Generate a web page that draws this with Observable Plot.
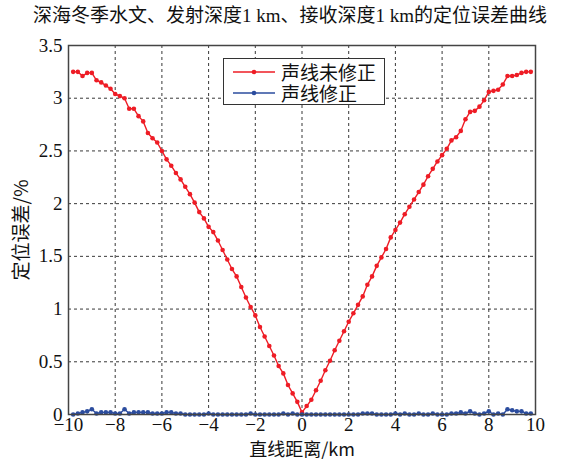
<!DOCTYPE html>
<html>
<head>
<meta charset="utf-8">
<script src="https://cdn.jsdelivr.net/npm/d3@7"></script>
<script src="https://cdn.jsdelivr.net/npm/@observablehq/plot@0.6"></script>
<style>
  body { margin: 0; background: #fff; }
  #wrap { position: relative; width: 577px; height: 461px; overflow: hidden; }
  #title { height: 30px; line-height: 32px; text-align: left; font-size: 19px; color: #111;
           font-family: 'Liberation Serif', 'Noto Sans CJK SC', serif; white-space: nowrap; padding-left: 33px; }
  #legend { position: absolute; left: 223px; top: 58px; width: 160px; height: 45px; background: #fff;
            border: 1.5px solid #333; font-family: 'Noto Sans CJK SC', sans-serif; font-size: 19px; color: #111; }
  #legend .row { display: flex; align-items: center; height: 21px; line-height: 21px; margin-left: 8px; }
  #legend .row:first-child { margin-top: 2px; }
  #legend span { display: inline-block; height: 21px; line-height: 21px; }
  #legend svg { margin-right: 5px; }
</style>
</head>
<body>
<div id="wrap">
  <div id="title">深海冬季水文、发射深度1 km、接收深度1 km的定位误差曲线</div>
  <div id="chart"></div>
  <div id="legend"></div>
</div>
<script>
const distances = [
  -9.8, -9.6, -9.4, -9.2, -9.0, -8.8, -8.6, -8.4, -8.2, -8.0,
  -7.8, -7.6, -7.4, -7.2, -7.0, -6.8, -6.6, -6.4, -6.2, -6.0,
  -5.8, -5.6, -5.4, -5.2, -5.0, -4.8, -4.6, -4.4, -4.2, -4.0,
  -3.8, -3.6, -3.4, -3.2, -3.0, -2.8, -2.6, -2.4, -2.2, -2.0,
  -1.8, -1.6, -1.4, -1.2, -1.0, -0.8, -0.6, -0.4, -0.2, 0,
  0.2, 0.4, 0.6, 0.8, 1.0, 1.2, 1.4, 1.6, 1.8, 2.0,
  2.2, 2.4, 2.6, 2.8, 3.0, 3.2, 3.4, 3.6, 3.8, 4.0,
  4.2, 4.4, 4.6, 4.8, 5.0, 5.2, 5.4, 5.6, 5.8, 6.0,
  6.2, 6.4, 6.6, 6.8, 7.0, 7.2, 7.4, 7.6, 7.8, 8.0,
  8.2, 8.4, 8.6, 8.8, 9.0, 9.2, 9.4, 9.6, 9.8
];
const uncorrected = [
  3.25, 3.25, 3.21, 3.24, 3.24, 3.17, 3.15, 3.12, 3.09, 3.04,
  3.02, 3.00, 2.90, 2.90, 2.83, 2.78, 2.67, 2.62, 2.58, 2.50,
  2.42, 2.36, 2.29, 2.23, 2.16, 2.09, 2.01, 1.92, 1.86, 1.78,
  1.73, 1.65, 1.56, 1.47, 1.38, 1.31, 1.21, 1.11, 1.02, 0.94,
  0.83, 0.74, 0.65, 0.56, 0.46, 0.39, 0.28, 0.20, 0.12, 0.02,
  0.08, 0.14, 0.23, 0.32, 0.42, 0.51, 0.61, 0.70, 0.79, 0.88,
  0.96, 1.04, 1.12, 1.23, 1.31, 1.41, 1.49, 1.57, 1.68, 1.75,
  1.82, 1.90, 1.97, 2.04, 2.11, 2.18, 2.26, 2.33, 2.40, 2.46,
  2.52, 2.60, 2.63, 2.69, 2.80, 2.87, 2.88, 2.92, 2.98, 3.06,
  3.07, 3.08, 3.13, 3.21, 3.21, 3.22, 3.24, 3.25, 3.25
];
const corrected = [
  0.00, 0.01, 0.02, 0.03, 0.05, 0.01, 0.02, 0.02, 0.02, 0.01,
  0.01, 0.05, 0.01, 0.02, 0.02, 0.02, 0.02, 0.01, 0.01, 0.01,
  0.02, 0.02, 0.01, 0.01, 0.00, 0.00, 0.00, 0.00, 0.00, 0.01,
  0.00, 0.00, 0.00, 0.00, 0.00, 0.00, 0.00, 0.00, 0.01, 0.00,
  0.00, 0.00, 0.00, 0.00, 0.00, 0.01, 0.00, 0.01, 0.00, 0.00,
  0.00, 0.00, 0.00, 0.00, 0.00, 0.00, 0.00, 0.00, 0.00, 0.00,
  0.00, 0.00, 0.01, 0.01, 0.01, 0.00, 0.00, 0.00, 0.00, 0.01,
  0.00, 0.01, 0.00, 0.00, 0.01, 0.00, 0.00, 0.01, 0.00, 0.00,
  0.00, 0.01, 0.01, 0.02, 0.01, 0.03, 0.01, 0.00, 0.01, 0.03,
  0.00, 0.01, 0.00, 0.05, 0.04, 0.03, 0.03, 0.01, 0.01
];
const seriesNames = ["声线未修正", "声线修正"];
const seriesColors = ["#ee1c25", "#2b4c9e"];
const xTicks = [-10, -8, -6, -4, -2, 0, 2, 4, 6, 8, 10];
const yTicks = [0, 0.5, 1, 1.5, 2, 2.5, 3, 3.5];
const xLabel = "直线距离/km";
const yLabel = "定位误差/%";

const rows = [];
distances.forEach((d, i) => {
  rows.push({x: d, y: uncorrected[i], s: seriesNames[0]});
});
distances.forEach((d, i) => {
  rows.push({x: d, y: corrected[i], s: seriesNames[1]});
});

const fmt = d => d < 0 ? "\u2212" + Math.abs(d) : String(d);

const chart = Plot.plot({
  width: 577,
  height: 431,
  marginLeft: 68,
  marginRight: 42,
  marginTop: 15,
  marginBottom: 47,
  style: {fontFamily: "'Liberation Serif', 'Noto Sans CJK SC', serif", fontSize: "18px", color: "#111", background: "#fff"},
  x: {domain: [-10, 10]},
  y: {domain: [0, 3.5]},
  color: {domain: seriesNames, range: seriesColors},
  marks: [
    Plot.gridX(xTicks, {stroke: "#222", strokeOpacity: 0.9, strokeDasharray: "3,3", strokeWidth: 1}),
    Plot.gridY(yTicks, {stroke: "#222", strokeOpacity: 0.9, strokeDasharray: "3,3", strokeWidth: 1}),
    Plot.axisX(xTicks, {tickFormat: fmt, tickSize: 0, tickPadding: 2.5, label: null, fontSize: 19}),
    Plot.axisY(yTicks, {tickFormat: d => String(d), tickSize: 0, tickPadding: 6, label: null, fontSize: 19}),
    Plot.text([xLabel], {frameAnchor: "bottom", textAnchor: "middle", lineAnchor: "middle", dy: 35.5, text: d => d, fontSize: 18, fontFamily: "'Noto Sans CJK SC', sans-serif"}),
    Plot.text([yLabel], {frameAnchor: "left", textAnchor: "middle", lineAnchor: "middle", dx: -47, rotate: -90, text: d => d, fontSize: 19, fontFamily: "'Noto Sans CJK SC', sans-serif"}),
    Plot.line(rows, {x: "x", y: "y", z: "s", stroke: "s", strokeWidth: 1.4}),
    Plot.dot(rows, {x: "x", y: "y", fill: "s", r: 2.3}),
    Plot.frame({stroke: "#444", strokeWidth: 1.5})
  ]
});
document.getElementById("chart").appendChild(chart);

// legend
const legend = d3.select("#legend");
seriesNames.forEach((name, i) => {
  const row = legend.append("div").attr("class", "row");
  const sw = row.append("svg").attr("width", 44).attr("height", 12);
  sw.append("line").attr("x1", 1).attr("x2", 43).attr("y1", 6).attr("y2", 6)
    .attr("stroke", seriesColors[i]).attr("stroke-width", 1.4);
  sw.append("circle").attr("cx", 22).attr("cy", 6).attr("r", 2.3).attr("fill", seriesColors[i]);
  row.append("span").text(name);
});
</script>
</body>
</html>
